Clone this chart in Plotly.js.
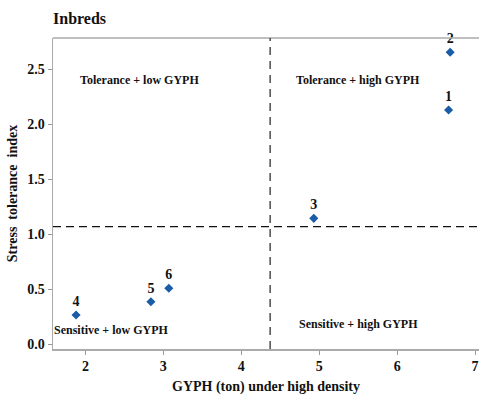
<!DOCTYPE html>
<html>
<head>
<meta charset="utf-8">
<script src="https://cdn.plot.ly/plotly-3.0.1.min.js"></script>
<style>
  html, body { margin: 0; padding: 0; background: #fff; }
  #chart { width: 479px; height: 395px; }
</style>
</head>
<body>
<div id="chart"></div>
<script>
// Inbred lines: yield under high density vs. stress tolerance index
const lineIds = ['1', '2', '3', '4', '5', '6'];
const gyph = [6.66, 6.68, 4.93, 1.88, 2.84, 3.07];
const sti = [2.13, 2.655, 1.145, 0.266, 0.387, 0.509];

// Quadrant dividers
const gyphCut = 4.37;
const stiCut = 1.07;

const quadrantLabels = ['Tolerance + low GYPH', 'Tolerance + high GYPH', 'Sensitive + low GYPH', 'Sensitive + high GYPH'];
const quadrantX = [2.69, 5.5, 2.34, 5.51];
const quadrantY = [2.4, 2.4, 0.13, 0.185];

const serif = 'Liberation Serif';

const trace = {
  x: gyph,
  y: sti,
  text: lineIds,
  mode: 'markers+text',
  type: 'scatter',
  textposition: 'top center',
  textfont: { family: serif, size: 14, color: '#111', weight: 'bold' },
  marker: { symbol: 'diamond', size: 7, color: '#1a5ca8' },
  cliponaxis: false,
  hoverinfo: 'x+y'
};

const annotations = quadrantLabels.map((t, i) => ({
  x: quadrantX[i], y: quadrantY[i], xref: 'x', yref: 'y',
  text: t, showarrow: false,
  font: { family: serif, size: 12, color: '#111', weight: 'bold' }
}));

const layout = {
  width: 479,
  height: 395,
  margin: { l: 53, r: 0, t: 38, b: 46 },
  paper_bgcolor: '#fff',
  plot_bgcolor: '#fff',
  showlegend: false,
  title: {
    text: 'Inbreds',
    x: 0, xref: 'paper', xanchor: 'left',
    y: 0.953, yanchor: 'middle',
    font: { family: serif, size: 16, color: '#111', weight: 'bold' }
  },
  xaxis: {
    range: [1.584, 7.05],
    tickvals: [2, 3, 4, 5, 6, 7],
    ticks: 'outside', ticklen: 4, tickcolor: '#999',
    showgrid: false, zeroline: false,
    showline: true, linecolor: '#aaa', linewidth: 1.5, mirror: false,
    tickfont: { family: serif, size: 14, color: '#111', weight: 'bold' },
    title: {
      text: 'GYPH (ton) under high density',
      standoff: 8,
      font: { family: serif, size: 14, color: '#111', weight: 'bold' }
    }
  },
  yaxis: {
    range: [-0.043, 2.785],
    tickvals: [0, 0.5, 1, 1.5, 2, 2.5],
    ticktext: ['0.0', '0.5', '1.0', '1.5', '2.0', '2.5'],
    ticks: 'outside', ticklen: 4, tickcolor: '#999',
    showgrid: false, zeroline: false,
    showline: true, linecolor: '#aaa', linewidth: 1.5,
    tickfont: { family: serif, size: 14, color: '#111', weight: 'bold' },
    title: {
      text: 'Stress  tolerance  index',
      standoff: 6,
      font: { family: serif, size: 14, color: '#111', weight: 'bold' }
    }
  },
  shapes: [
    { type: 'line', xref: 'paper', yref: 'paper', x0: 0, x1: 1, y0: 1, y1: 1,
      line: { color: '#aaa', width: 1.5 } },
    { type: 'line', xref: 'x', yref: 'paper', x0: gyphCut, x1: gyphCut, y0: 0, y1: 1,
      line: { color: '#333', width: 1.3, dash: '8px,6px' } },
    { type: 'line', xref: 'paper', yref: 'y', x0: 0, x1: 1, y0: stiCut, y1: stiCut,
      line: { color: '#111', width: 1.3, dash: '8px,5px' } }
  ],
  annotations: annotations
};

Plotly.newPlot('chart', [trace], layout, { displayModeBar: false, staticPlot: true });
</script>
</body>
</html>
